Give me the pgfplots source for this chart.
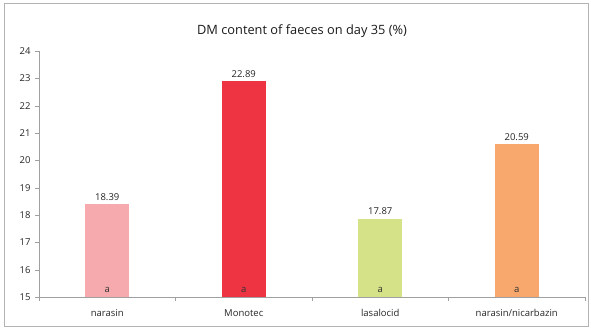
\documentclass[border=0pt]{standalone}
\usepackage{pgfplots}
\pgfplotsset{compat=1.18}
\usepackage{fontspec}
\setmainfont{Open Sans}
\definecolor{cpink}{HTML}{F6AAAD}
\definecolor{cred}{HTML}{EE3342}
\definecolor{cgreen}{HTML}{D5E287}
\definecolor{corange}{HTML}{F8A86D}
\definecolor{axgray}{HTML}{A0A0A0}
\begin{document}
\begin{tikzpicture}[x=1pt,y=1pt]
\useasboundingbox (-39,-32) rectangle (552,297);
\draw[axgray!80, line width=1pt] (-34,-29) rectangle (549,293);
\begin{axis}[
  at={(0,0)}, anchor=south west,
  scale only axis, width=546pt, height=246pt,
  xmin=-0.5, xmax=3.5, ymin=15, ymax=24,
  axis x line*=bottom, axis y line*=left,
  axis line style={axgray, line width=0.6pt},
  ytick={15,...,24},
  xtick={-0.5,0.5,1.5,2.5,3.5},
  xticklabels={},
  extra x ticks={0,1,2,3},
  extra x tick labels={narasin,Monotec,lasalocid,narasin/nicarbazin},
  extra x tick style={tick style={draw=none}, xticklabel style={yshift=-5pt}},
  tick align=outside,
  major tick length=4pt,
  tick style={axgray},
  tick label style={font=\fontsize{9.5}{11}\selectfont, text=black!85},
  /pgf/number format/assume math mode=true,
  yticklabel style={xshift=-1pt},
  ybar, bar width=44pt, bar shift=0pt,
  nodes near coords,
  nodes near coords style={font=\fontsize{9.5}{11}\selectfont, text=black!85, /pgf/number format/fixed, /pgf/number format/precision=2, /pgf/number format/fixed zerofill, /pgf/number format/assume math mode=true, yshift=0pt},
  clip=false,
]
\addplot[fill=cpink, draw=none] coordinates {(0,18.39)};
\addplot[fill=cred, draw=none] coordinates {(1,22.89)};
\addplot[fill=cgreen, draw=none] coordinates {(2,17.87)};
\addplot[fill=corange, draw=none] coordinates {(3,20.59)};
\pgfplotsinvokeforeach{0,1,2,3}{
  \node[font=\fontsize{9.5}{11}\selectfont\upshape, text=black!80, anchor=base] at (axis cs:#1,15.15) {\textup{a}};
}
\end{axis}
\node[font=\fontsize{12.8}{15}\selectfont, text=black!90] at (263,266) {DM content of faeces on day 35 (\%)};
\end{tikzpicture}
\end{document}
